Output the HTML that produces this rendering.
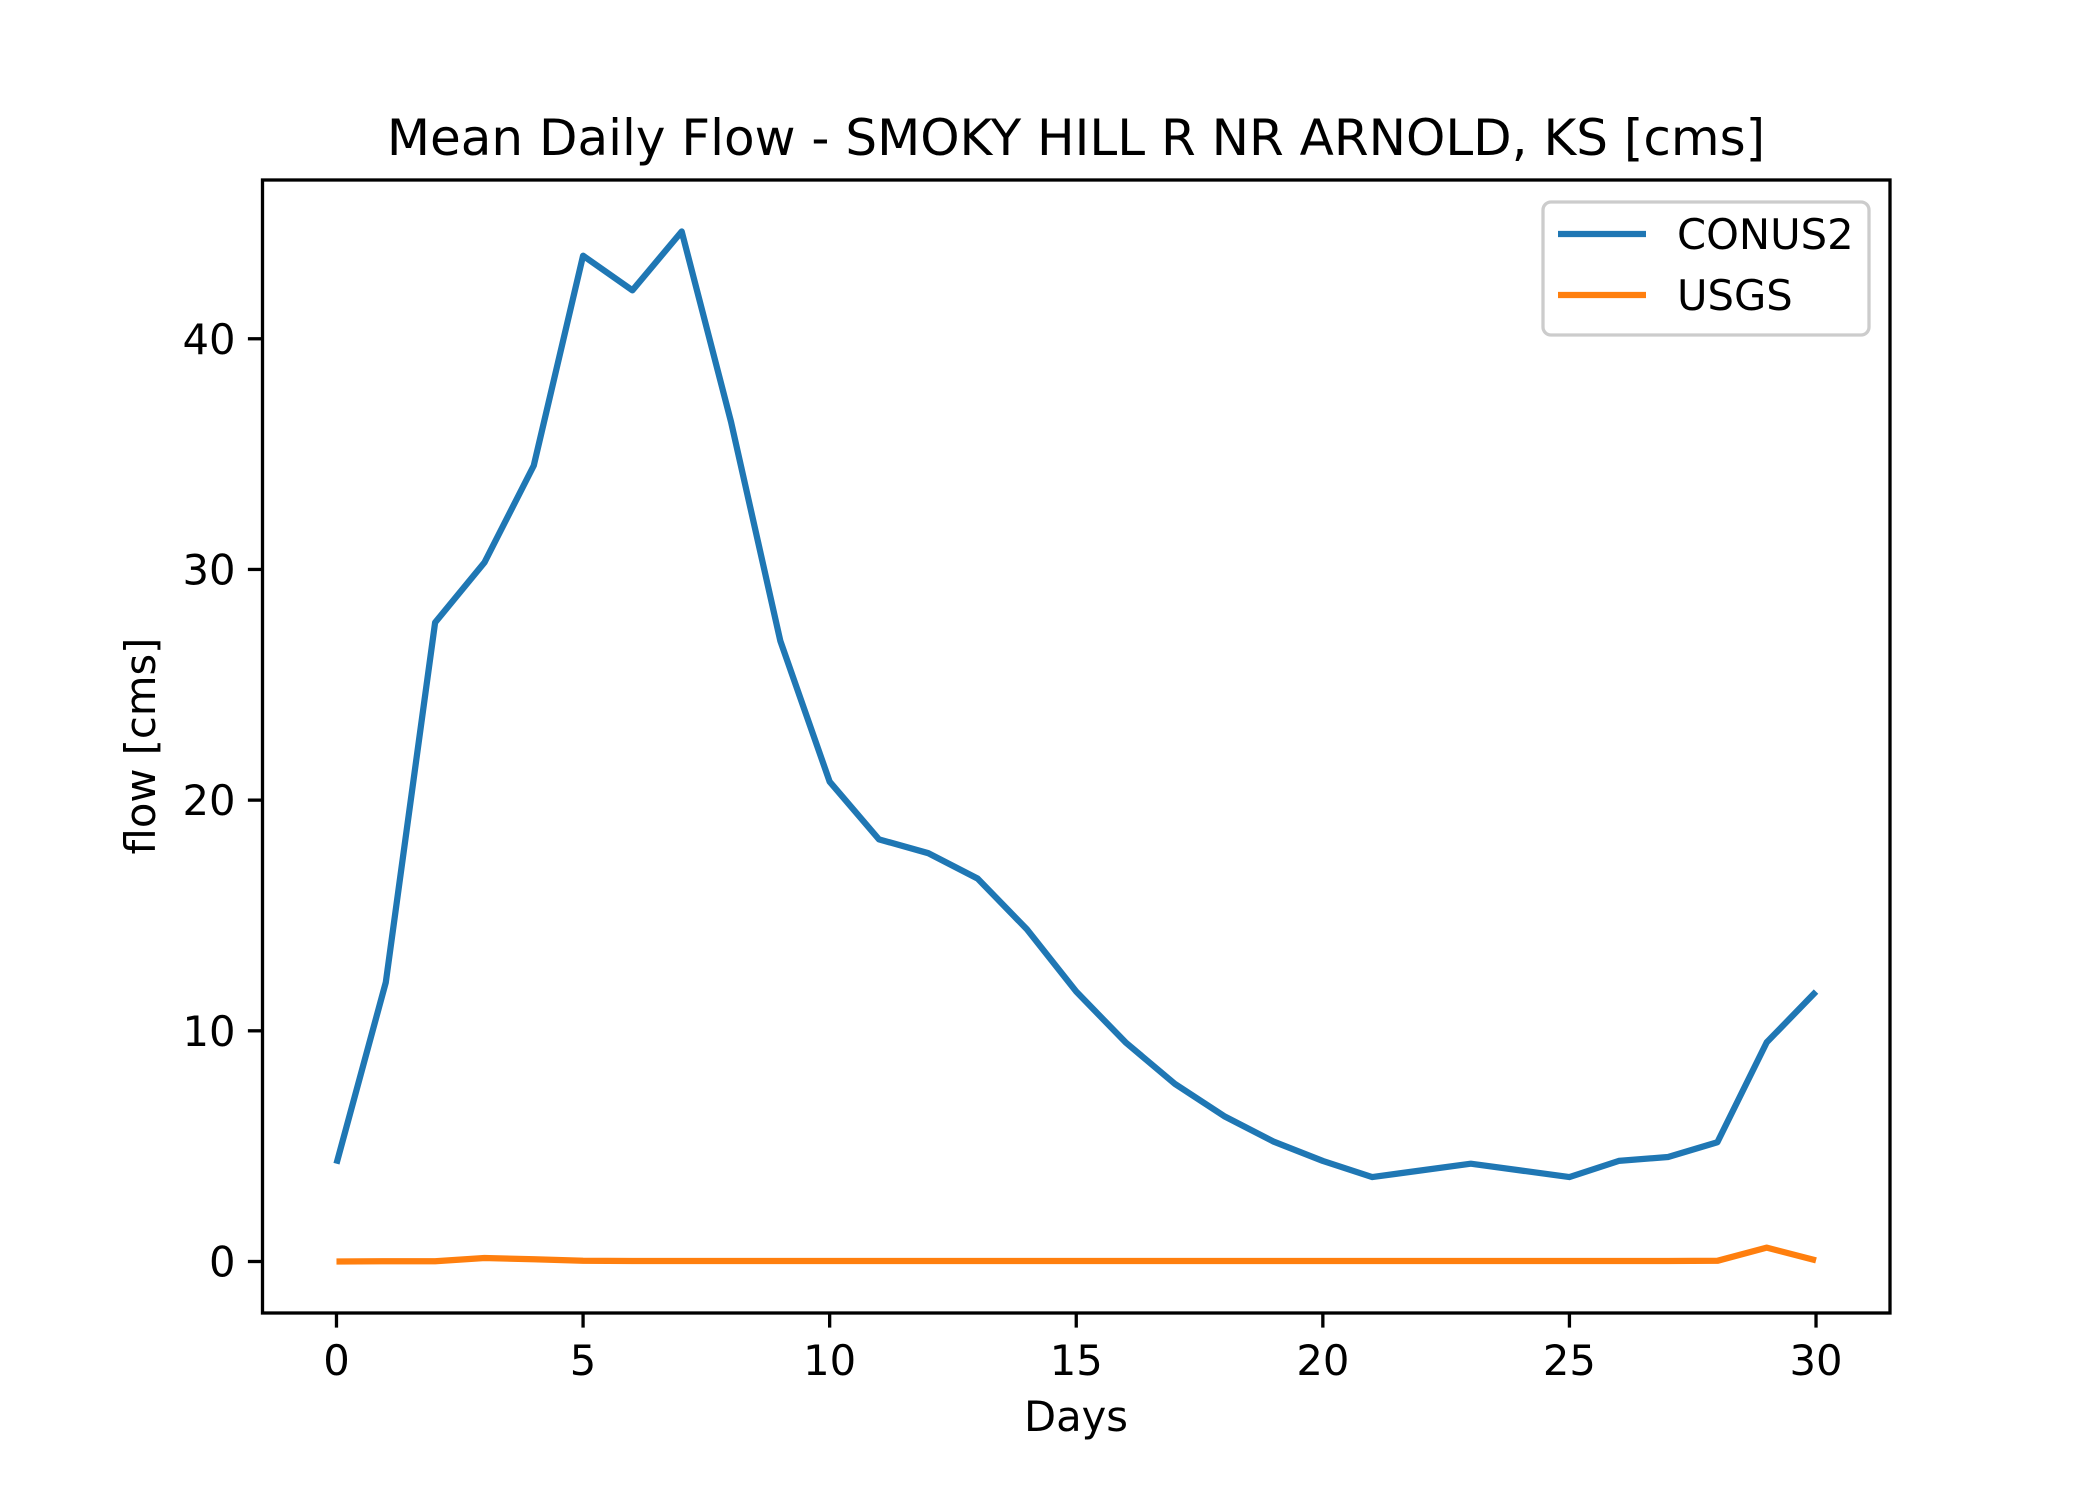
<!DOCTYPE html>
<html><head><meta charset="utf-8"><style>html,body{margin:0;padding:0;background:#fff}svg{display:block}text{font-family:"DejaVu Sans","Liberation Sans",sans-serif;fill:#000}</style></head>
<body>
<svg id="chart" width="2100" height="1500" viewBox="0 0 2100 1500" xmlns="http://www.w3.org/2000/svg">
<rect width="2100" height="1500" fill="#fff"/>
<text x="1076" y="155" font-size="50" text-anchor="middle">Mean Daily Flow - SMOKY HILL R NR ARNOLD, KS [cms]</text>
<g id="ticks"></g>
<g id="series"></g>
<rect x="262.5" y="180" width="1627.5" height="1133" fill="none" stroke="#000" stroke-width="3.3"/>
<text x="1076" y="1431" font-size="41.7" text-anchor="middle">Days</text>
<text transform="translate(155,746) rotate(-90)" font-size="41.7" text-anchor="middle">flow [cms]</text>
<g>
<rect x="1543" y="202" width="326" height="133" rx="8" fill="#fff" fill-opacity="0.8" stroke="#ccc" stroke-width="3.3"/>
<line x1="1558" y1="234" x2="1646" y2="234" stroke="#1f77b4" stroke-width="6.25"/>
<text x="1677" y="249" font-size="41.7">CONUS2</text>
<line x1="1558" y1="295" x2="1646" y2="295" stroke="#ff7f0e" stroke-width="6.25"/>
<text x="1677" y="310" font-size="41.7">USGS</text>
</g>
</svg>
<script>
const days = [0,1,2,3,4,5,6,7,8,9,10,11,12,13,14,15,16,17,18,19,20,21,22,23,24,25,26,27,28,29,30];
const conus2 = [4.24,12.1,27.7,30.3,34.5,43.6,42.1,44.65,36.4,26.9,20.8,18.3,17.7,16.6,14.4,11.7,9.5,7.7,6.3,5.2,4.36,3.66,3.95,4.24,3.95,3.66,4.36,4.53,5.17,9.5,11.7];
const usgs = [0,0.01,0.01,0.15,0.1,0.03,0.02,0.02,0.02,0.02,0.02,0.02,0.02,0.02,0.02,0.02,0.02,0.02,0.02,0.02,0.02,0.02,0.02,0.02,0.02,0.02,0.02,0.02,0.03,0.6,0.05];
const xTicks = [0,5,10,15,20,25,30];
const yTicks = [0,10,20,30,40];
const X0=262.5,X1=1890,Y0=1313,Y1=180;
const xMin=-1.5,xMax=31.5;
const allV=conus2.concat(usgs);
const dMin=Math.min(...allV),dMax=Math.max(...allV),pad=(dMax-dMin)*0.05;
const yMin=dMin-pad,yMax=dMax+pad;
const sx=v=>X0+(v-xMin)/(xMax-xMin)*(X1-X0);
const sy=v=>Y0-(v-yMin)/(yMax-yMin)*(Y0-Y1);
const NS='http://www.w3.org/2000/svg';
const tg=document.getElementById('ticks'),sg=document.getElementById('series');
function mk(tag,attrs,parent){const e=document.createElementNS(NS,tag);for(const k in attrs)e.setAttribute(k,attrs[k]);parent.appendChild(e);return e;}
xTicks.forEach(t=>{
  const l=mk('line',{x1:sx(t),x2:sx(t),y1:Y0,y2:Y0+14.6,stroke:'#000','stroke-width':3.3},tg);
  
  
  const tx=mk('text',{x:sx(t),y:Y0+62,'font-size':41.7,'text-anchor':'middle'},tg);
  tx.textContent=t;
  
  
});
yTicks.forEach(t=>{
  const l=mk('line',{x1:X0-14.6,x2:X0,y1:sy(t),y2:sy(t),stroke:'#000','stroke-width':3.3},tg);
  
  
  const tx=mk('text',{x:X0-27,y:sy(t)+15,'font-size':41.7,'text-anchor':'end'},tg);
  tx.textContent=t;
  
  
});
function line(vals,color,name){
  const p=mk('polyline',{points:days.map((d,i)=>sx(d)+','+sy(vals[i])).join(' '),fill:'none',stroke:color,'stroke-width':6.25,'stroke-linejoin':'round','stroke-linecap':'butt'},sg);
  
  
}
line(conus2,'#1f77b4','conus2-line');
line(usgs,'#ff7f0e','usgs-line');
</script>
</body></html>
